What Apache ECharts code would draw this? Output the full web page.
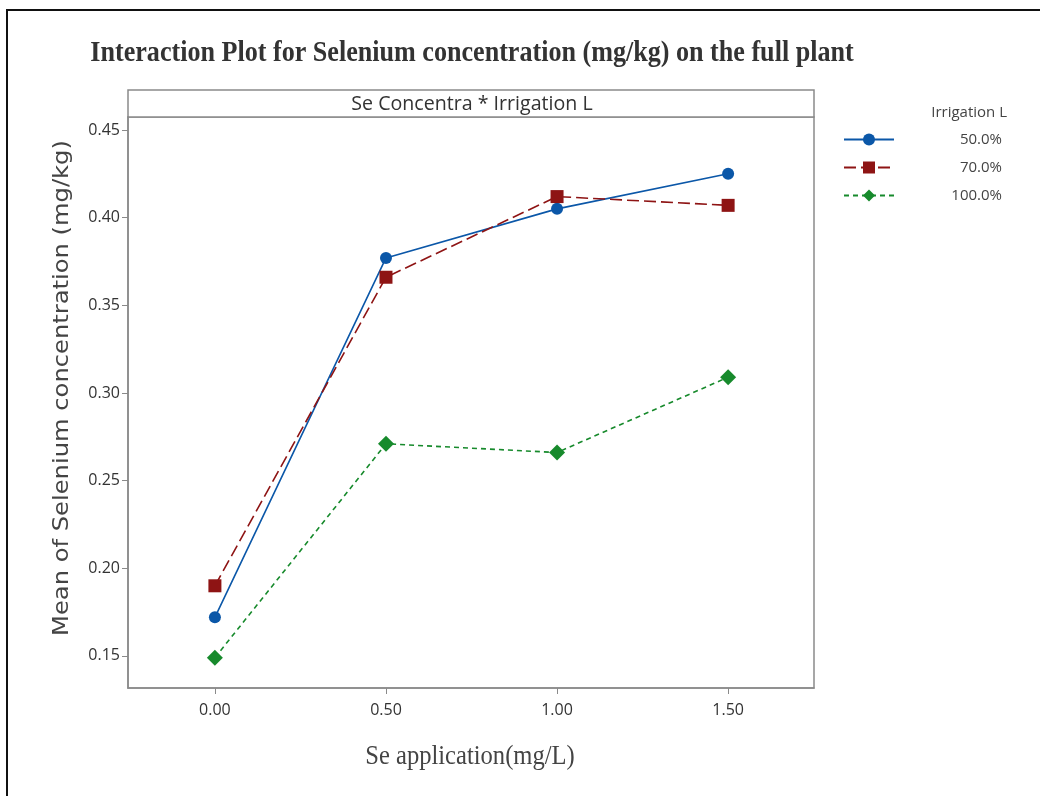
<!DOCTYPE html>
<html>
<head>
<meta charset="utf-8">
<script src="https://cdn.jsdelivr.net/npm/echarts@6/dist/echarts.min.js"></script>
<style>
  html, body { margin: 0; padding: 0; background: #fff; }
  #chart { width: 1040px; height: 796px; }
</style>
</head>
<body>
<div id="chart"></div>
<script>
// Se application levels (mg/L)
var seLevels = [0.0, 0.5, 1.0, 1.5];
var yTicks = [0.15, 0.20, 0.25, 0.30, 0.35, 0.40, 0.45];
var irrigation = ["50.0%", "70.0%", "100.0%"];
// mean Se concentration (mg/kg)
var irr50 = [0.172, 0.377, 0.405, 0.425];
var irr70 = [0.190, 0.366, 0.412, 0.407];
var irr100 = [0.149, 0.271, 0.266, 0.309];

var colors = ["#0b57a8", "#8e1414", "#178a2c"];

function pairs(vals) {
  return seLevels.map(function (x, i) { return [x, vals[i]]; });
}

var chart = echarts.init(document.getElementById("chart"));

var option = {
  backgroundColor: "#fff",
  animation: false,
  grid: {
    left: 128,
    right: 226,
    top: 117,
    bottom: 108,
    show: true,
    borderColor: "#8a8a8a",
    borderWidth: 1.5
  },
  legend: {
    right: 33,
    top: 127,
    orient: "vertical",
    itemWidth: 50,
    itemHeight: 15,
    itemGap: 13,
    data: irrigation,
    formatter: function (n) { return "{a|" + n + "}"; },
    textStyle: {
      rich: {
        a: { width: 103, align: "right", fontSize: 15, color: "#444", fontFamily: "Open Sans" }
      }
    }
  },
  xAxis: {
    type: "value",
    min: -0.254,
    max: 1.751,
    splitLine: { show: false },
    axisLine: { onZero: false, lineStyle: { color: "#8a8a8a", width: 1.5 } },
    axisTick: { customValues: seLevels, length: 6, lineStyle: { color: "#8a8a8a" } },
    axisLabel: {
      customValues: seLevels,
      margin: 14,
      fontSize: 16,
      color: "#333",
      fontFamily: "Open Sans",
      formatter: function (v) { return v.toFixed(2); }
    }
  },
  yAxis: {
    type: "value",
    min: 0.1317,
    max: 0.4574,
    splitLine: { show: false },
    axisLine: { show: true, onZero: false, lineStyle: { color: "#8a8a8a", width: 1.5 } },
    axisTick: { show: true, customValues: yTicks, length: 6, lineStyle: { color: "#8a8a8a" } },
    axisLabel: {
      customValues: yTicks,
      margin: 8,
      fontSize: 16,
      color: "#333",
      fontFamily: "Open Sans",
      formatter: function (v) { return v.toFixed(2); }
    }
  },
  series: [
    {
      name: irrigation[0],
      type: "line",
      data: pairs(irr50),
      symbol: "circle",
      symbolSize: 12,
      color: colors[0],
      lineStyle: { width: 1.6, type: "solid" }
    },
    {
      name: irrigation[1],
      type: "line",
      data: pairs(irr70),
      symbol: "rect",
      symbolSize: 13,
      color: colors[1],
      lineStyle: { width: 1.6, type: [12, 5] }
    },
    {
      name: irrigation[2],
      type: "line",
      data: pairs(irr100),
      symbol: "diamond",
      symbolSize: 16,
      color: colors[2],
      lineStyle: { width: 1.6, type: [5, 4] }
    }
  ],
  graphic: [
    {
      type: "rect",
      shape: { x: 7, y: 10, width: 1100, height: 900 },
      style: { fill: "none", stroke: "#111", lineWidth: 2 },
      silent: true
    },
    {
      type: "rect",
      shape: { x: 128, y: 90, width: 686, height: 27 },
      style: { fill: "#fff", stroke: "#8a8a8a", lineWidth: 1.5 },
      silent: true
    },
    {
      type: "text",
      x: 472, y: 104,
      scaleX: 0.98,
      style: {
        text: "Se Concentra * Irrigation L",
        fontSize: 20, fill: "#333", fontFamily: "Open Sans",
        align: "center", verticalAlign: "middle"
      }
    },
    {
      type: "text",
      x: 472, y: 53,
      scaleX: 0.87,
      style: {
        text: "Interaction Plot for Selenium concentration (mg/kg) on the full plant",
        fontSize: 30, fontWeight: "bold", fill: "#333", fontFamily: "Liberation Serif",
        align: "center", verticalAlign: "middle"
      }
    },
    {
      type: "text",
      x: 470, y: 757,
      scaleX: 0.91,
      style: {
        text: "Se application(mg/L)",
        fontSize: 27, fill: "#444", fontFamily: "Liberation Serif",
        align: "center", verticalAlign: "middle"
      }
    },
    {
      type: "text",
      x: 62, y: 388,
      rotation: Math.PI / 2,
      scaleX: 1.1,
      style: {
        text: "Mean of Selenium concentration (mg/kg)",
        fontSize: 22, fill: "#444", fontFamily: "DejaVu Sans",
        align: "center", verticalAlign: "middle"
      }
    },
    {
      type: "text",
      x: 1007, y: 113,
      style: {
        text: "Irrigation L",
        fontSize: 15, fill: "#444", fontFamily: "Open Sans",
        align: "right", verticalAlign: "middle"
      }
    }
  ]
};

chart.setOption(option);
</script>
</body>
</html>
